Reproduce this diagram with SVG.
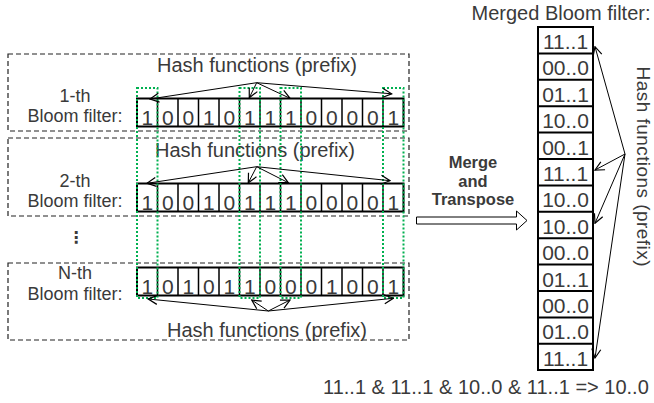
<svg xmlns="http://www.w3.org/2000/svg" width="654" height="403" viewBox="0 0 654 403">
  <style>
    .t { font-family: "Liberation Sans", Arial, sans-serif; font-size: 20px; fill: #3a3a3a; }
    .l { font-family: "Liberation Sans", Arial, sans-serif; font-size: 18px; fill: #3a3a3a; text-anchor: middle; }
    .d { font-family: "Liberation Sans", Arial, sans-serif; font-size: 21px; fill: #3a3a3a; text-anchor: middle; }
    .m { text-anchor: middle; }
    .b { font-family: "Liberation Sans", Arial, sans-serif; font-size: 16.5px; font-weight: bold; fill: #3a3a3a; text-anchor: middle; }
    .frame { fill: none; stroke: #222; stroke-width: 1.2; stroke-dasharray: 5 3; }
    .cell { fill: #fff; stroke: #000; stroke-width: 2; }
    .hl { fill: none; stroke: #00b050; stroke-width: 2; stroke-dasharray: 2 2; }
    .arr { fill: none; stroke: #000; stroke-width: 1; marker-end: url(#open); }
  </style>
  <defs>
    <marker id="open" markerWidth="11" markerHeight="11" refX="10" refY="5.5" orient="auto" markerUnits="userSpaceOnUse">
      <path d="M1,1 L10,5.5 L1,10" fill="none" stroke="#000" stroke-width="1.2"/>
    </marker>
  </defs>
  <rect width="654" height="403" fill="#fff"/>

  <!-- filter 1 -->
  <g id="filter1">
    <rect class="frame" x="8" y="54" width="401" height="77"/>
    <text class="t m" x="257" y="72">Hash functions (prefix)</text>
    <text class="l" x="75" y="101.5">1-th</text>
    <text class="l" x="75" y="122">Bloom filter:</text>
    <g>
      <rect class="cell" x="137" y="98.5" width="266.5" height="28"/>
      <path d="M157.5,98.5v28M178,98.5v28M198.5,98.5v28M219,98.5v28M239.5,98.5v28M260,98.5v28M280.5,98.5v28M301,98.5v28M321.5,98.5v28M342,98.5v28M362.5,98.5v28M383,98.5v28" stroke="#000" stroke-width="1.5"/>
      <text class="d" y="124.5"><tspan x="147.25">1</tspan><tspan x="167.75">0</tspan><tspan x="188.25">0</tspan><tspan x="208.75">1</tspan><tspan x="229.25">0</tspan><tspan x="249.75">1</tspan><tspan x="270.25">1</tspan><tspan x="290.75">1</tspan><tspan x="311.25">0</tspan><tspan x="331.75">0</tspan><tspan x="352.25">0</tspan><tspan x="372.75">0</tspan><tspan x="393.25">1</tspan></text>
    </g>
  </g>

  <!-- filter 2 -->
  <g id="filter2">
    <rect class="frame" x="8" y="138" width="401" height="78"/>
    <text class="t m" x="255" y="157">Hash functions (prefix)</text>
    <text class="l" x="75" y="186.5">2-th</text>
    <text class="l" x="75" y="207">Bloom filter:</text>
    <g>
      <rect class="cell" x="137" y="183.5" width="266.5" height="28"/>
      <path d="M157.5,183.5v28M178,183.5v28M198.5,183.5v28M219,183.5v28M239.5,183.5v28M260,183.5v28M280.5,183.5v28M301,183.5v28M321.5,183.5v28M342,183.5v28M362.5,183.5v28M383,183.5v28" stroke="#000" stroke-width="1.5"/>
      <text class="d" y="209.5"><tspan x="147.25">1</tspan><tspan x="167.75">0</tspan><tspan x="188.25">0</tspan><tspan x="208.75">1</tspan><tspan x="229.25">0</tspan><tspan x="249.75">1</tspan><tspan x="270.25">1</tspan><tspan x="290.75">1</tspan><tspan x="311.25">0</tspan><tspan x="331.75">0</tspan><tspan x="352.25">0</tspan><tspan x="372.75">0</tspan><tspan x="393.25">1</tspan></text>
    </g>
  </g>

  <text class="b" x="76" y="243" style="font-family: 'DejaVu Sans', sans-serif; font-size: 16px;">⋮</text>

  <!-- filter N -->
  <g id="filterN">
    <rect class="frame" x="8" y="263" width="401" height="77"/>
    <text class="t m" x="267" y="337">Hash functions (prefix)</text>
    <text class="l" x="75" y="279">N-th</text>
    <text class="l" x="75" y="299.5">Bloom filter:</text>
    <g>
      <rect class="cell" x="137" y="267.5" width="266.5" height="28"/>
      <path d="M157.5,267.5v28M178,267.5v28M198.5,267.5v28M219,267.5v28M239.5,267.5v28M260,267.5v28M280.5,267.5v28M301,267.5v28M321.5,267.5v28M342,267.5v28M362.5,267.5v28M383,267.5v28" stroke="#000" stroke-width="1.5"/>
      <text class="d" y="293.5"><tspan x="147.25">1</tspan><tspan x="167.75">0</tspan><tspan x="188.25">1</tspan><tspan x="208.75">0</tspan><tspan x="229.25">1</tspan><tspan x="249.75">1</tspan><tspan x="270.25">0</tspan><tspan x="290.75">0</tspan><tspan x="311.25">0</tspan><tspan x="331.75">1</tspan><tspan x="352.25">0</tspan><tspan x="372.75">0</tspan><tspan x="393.25">1</tspan></text>
    </g>
  </g>

  <!-- selected bit columns -->
  <g id="columns">
    <rect class="hl" x="137" y="88" width="20.5" height="210"/>
    <rect class="hl" x="239.5" y="88" width="20.5" height="210"/>
    <rect class="hl" x="280.5" y="88" width="20.5" height="210"/>
    <rect class="hl" x="383" y="88" width="20.5" height="210"/>
  </g>

  <!-- merge step -->
  <g id="merge">
    <text class="b" x="473" y="168">Merge</text>
    <text class="b" x="473" y="186.5">and</text>
    <text class="b" x="473" y="205">Transpose</text>
    <path d="M416.5,217 H516.5 V211 L527,220.5 L516.5,230 V224 H416.5 Z" fill="#fff" stroke="#000" stroke-width="1"/>
  </g>

  <!-- merged filter -->
  <g id="merged">
    <text class="t m" x="561" y="19.5">Merged Bloom filter:</text>
    <rect class="cell" x="538" y="27" width="55" height="343"/>
    <path d="M538,53.4h55M538,79.8h55M538,106.2h55M538,132.6h55M538,159h55M538,185.4h55M538,211.8h55M538,238.2h55M538,264.6h55M538,291h55M538,317.4h55M538,343.8h55" stroke="#000" stroke-width="2"/>
    <g class="d">
      <text x="565.5" y="49">11..1</text>
      <text x="565.5" y="75.4">00..0</text>
      <text x="565.5" y="101.8">01..1</text>
      <text x="565.5" y="128.2">10..0</text>
      <text x="565.5" y="154.6">00..1</text>
      <text x="565.5" y="181">11..1</text>
      <text x="565.5" y="207.4">10..0</text>
      <text x="565.5" y="233.8">10..0</text>
      <text x="565.5" y="260.2">00..0</text>
      <text x="565.5" y="286.6">01..1</text>
      <text x="565.5" y="313">00..0</text>
      <text x="565.5" y="339.4">01..0</text>
      <text x="565.5" y="365.8">11..1</text>
    </g>
    <text class="t m" transform="translate(636.5,166.5) rotate(90)" style="font-size: 19px;" textLength="200" lengthAdjust="spacing">Hash functions (prefix)</text>
  </g>

  <text class="t" x="323" y="393.5">11..1 &amp; 11..1 &amp; 10..0 &amp; 11..1 =&gt; 10..0</text>

  <!-- hash function connectors -->
  <g id="connectors">
    <path class="arr" d="M256.7,82.7 L150,99"/>
    <path class="arr" d="M256.7,82.7 L249.3,97.7"/>
    <path class="arr" d="M256.7,82.7 L290,98.3"/>
    <path class="arr" d="M256.7,82.7 L391.7,93.8"/>

    <path class="arr" d="M256.7,166.7 L147,183.3"/>
    <path class="arr" d="M256.7,166.7 L248.3,182.7"/>
    <path class="arr" d="M256.7,166.7 L288.3,182.7"/>
    <path class="arr" d="M256.7,166.7 L390,180.7"/>

    <path class="arr" d="M268.3,311 L148.3,299"/>
    <path class="arr" d="M268.3,311 L251.7,300"/>
    <path class="arr" d="M268.3,311 L290,300"/>
    <path class="arr" d="M268.3,311 L393.3,298.3"/>

    <path class="arr" d="M625,154 L595,46.7"/>
    <path class="arr" d="M625,154 L595,170"/>
    <path class="arr" d="M625,154 L595,223.3"/>
    <path class="arr" d="M625,154 L595,358"/>
  </g>
</svg>
